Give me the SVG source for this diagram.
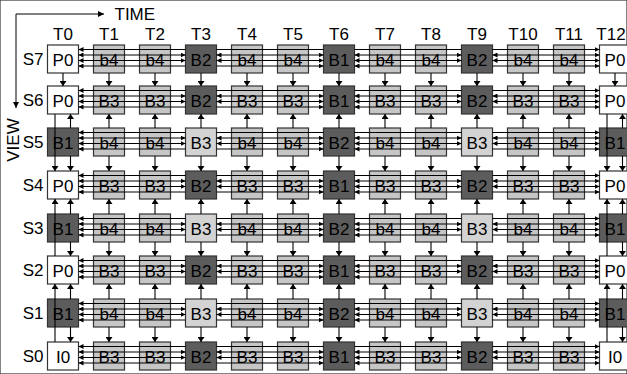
<svg xmlns="http://www.w3.org/2000/svg" xmlns:xlink="http://www.w3.org/1999/xlink" width="627" height="374" viewBox="0 0 627 374">
<style>
rect{stroke:#333;stroke-width:1.2}
.w{fill:#fff}.l{fill:#c6c6c6}.x{fill:#d3d3d3}.d{fill:#5c5c5c}
text{font-family:"Liberation Sans",Arial,sans-serif;font-size:17px;fill:#000}
.n text,.tl{text-anchor:middle}
.sl{text-anchor:end}
.c{fill:none;stroke:#000;stroke-width:1}
</style>
<defs>
<marker id="h" viewBox="0 0 5 5" refX="5" refY="2.5" markerWidth="5" markerHeight="5" markerUnits="userSpaceOnUse" orient="auto-start-reverse"><path d="M0,0L5,2.5L0,5z" fill="#000"/></marker>
<marker id="v" viewBox="0 0 5 7" refX="5" refY="3.5" markerWidth="5" markerHeight="7" markerUnits="userSpaceOnUse" orient="auto"><path d="M0,0L5,3.5L0,7z" fill="#000"/></marker>
<marker id="t" viewBox="0 0 6 6" refX="6" refY="3" markerWidth="6" markerHeight="6" markerUnits="userSpaceOnUse" orient="auto"><path d="M0,0L6,3L0,6z" fill="#000"/></marker>
<g id="hr" fill="none" stroke="#000" stroke-width="1">
<path marker-start="url(#h)" d="M78.5 4.5H185.5"/>
<path d="M216.5 4.5H323.5"/>
<path d="M354.5 4.5H461.5"/>
<path marker-end="url(#h)" d="M492.5 4.5H599.5"/>
<path marker-start="url(#h)" marker-end="url(#h)" d="M78.5 10H185.5"/>
<path marker-start="url(#h)" marker-end="url(#h)" d="M216.5 10H323.5"/>
<path marker-start="url(#h)" marker-end="url(#h)" d="M354.5 10H461.5"/>
<path marker-start="url(#h)" marker-end="url(#h)" d="M492.5 10H599.5"/>
<path marker-start="url(#h)" marker-end="url(#h)" d="M78.5 15.5H185.5"/>
<path marker-start="url(#h)" marker-end="url(#h)" d="M216.5 15.5H323.5"/>
<path marker-start="url(#h)" marker-end="url(#h)" d="M354.5 15.5H461.5"/>
<path marker-start="url(#h)" marker-end="url(#h)" d="M492.5 15.5H599.5"/>
<path marker-start="url(#h)" d="M78.5 21H185.5"/>
<path marker-end="url(#h)" d="M216.5 21H323.5"/>
<path marker-start="url(#h)" d="M354.5 21H461.5"/>
<path marker-end="url(#h)" d="M492.5 21H599.5"/>
</g>
<g id="vc" fill="none" stroke="#000" stroke-width="1.1" marker-end="url(#v)">
<path d="M0 73V86"/><path d="M0 128V114"/><path d="M0 156V171"/><path d="M0 214V199"/><path d="M0 242V256"/><path d="M0 299V284"/><path d="M0 327V342"/>
</g>
<g id="ve" fill="none" stroke="#000" stroke-width="1.1" marker-end="url(#v)">
<path d="M15.5 73V86"/>
<path d="M7.5 114V171"/><path d="M7.5 256V199"/><path d="M7.5 342V284"/>
<path d="M23 128V114"/><path d="M23 156V171"/><path d="M23 214V199"/><path d="M23 242V256"/><path d="M23 299V284"/><path d="M23 327V342"/>
</g>
</defs>
<rect x="0" y="0" width="627" height="374" fill="#fff" stroke="none"/>
<g id="axes">
<path class="c" d="M16 14H104" marker-end="url(#t)"/>
<path class="c" d="M16 14V108" marker-end="url(#t)"/>
<text x="114.5" y="19.5">TIME</text>
<text class="tl" transform="translate(18.5 140) rotate(-90)">VIEW</text>
</g>
<g id="labels">
<text class="tl" x="63" y="39.5">T0</text><text class="tl" x="109" y="39.5">T1</text><text class="tl" x="155" y="39.5">T2</text><text class="tl" x="201" y="39.5">T3</text><text class="tl" x="247" y="39.5">T4</text><text class="tl" x="293" y="39.5">T5</text><text class="tl" x="339" y="39.5">T6</text><text class="tl" x="385" y="39.5">T7</text><text class="tl" x="431" y="39.5">T8</text><text class="tl" x="477" y="39.5">T9</text><text class="tl" x="523" y="39.5">T10</text><text class="tl" x="569" y="39.5">T11</text><text class="tl" x="611" y="39.5">T12</text>
<text class="sl" x="43.5" y="64.5">S7</text><text class="sl" x="43.5" y="105.5">S6</text><text class="sl" x="43.5" y="147.5">S5</text><text class="sl" x="43.5" y="190.5">S4</text><text class="sl" x="43.5" y="233.5">S3</text><text class="sl" x="43.5" y="275.5">S2</text><text class="sl" x="43.5" y="318.5">S1</text><text class="sl" x="43.5" y="361.5">S0</text>
</g>
<g id="nodes">
<g id="S7T0" class="n" transform="translate(47.5 45)"><rect class="w" width="31" height="28"/><text x="15.5" y="20.5">P0</text></g>
<g id="S7T1" class="n" transform="translate(93.5 45)"><rect class="l" width="31" height="28"/><text x="15.5" y="20.5">b4</text></g>
<g id="S7T2" class="n" transform="translate(139.5 45)"><rect class="l" width="31" height="28"/><text x="15.5" y="20.5">b4</text></g>
<g id="S7T3" class="n" transform="translate(185.5 45)"><rect class="d" width="31" height="28"/><text x="15.5" y="20.5">B2</text></g>
<g id="S7T4" class="n" transform="translate(231.5 45)"><rect class="l" width="31" height="28"/><text x="15.5" y="20.5">b4</text></g>
<g id="S7T5" class="n" transform="translate(277.5 45)"><rect class="l" width="31" height="28"/><text x="15.5" y="20.5">b4</text></g>
<g id="S7T6" class="n" transform="translate(323.5 45)"><rect class="d" width="31" height="28"/><text x="15.5" y="20.5">B1</text></g>
<g id="S7T7" class="n" transform="translate(369.5 45)"><rect class="l" width="31" height="28"/><text x="15.5" y="20.5">b4</text></g>
<g id="S7T8" class="n" transform="translate(415.5 45)"><rect class="l" width="31" height="28"/><text x="15.5" y="20.5">b4</text></g>
<g id="S7T9" class="n" transform="translate(461.5 45)"><rect class="d" width="31" height="28"/><text x="15.5" y="20.5">B2</text></g>
<g id="S7T10" class="n" transform="translate(507.5 45)"><rect class="l" width="31" height="28"/><text x="15.5" y="20.5">b4</text></g>
<g id="S7T11" class="n" transform="translate(553.5 45)"><rect class="l" width="31" height="28"/><text x="15.5" y="20.5">b4</text></g>
<g id="S7T12" class="n" transform="translate(599.5 45)"><rect class="w" width="31" height="28"/><text x="15.5" y="20.5">P0</text></g>

<g id="S6T0" class="n" transform="translate(47.5 86)"><rect class="w" width="31" height="28"/><text x="15.5" y="20.5">P0</text></g>
<g id="S6T1" class="n" transform="translate(93.5 86)"><rect class="l" width="31" height="28"/><text x="15.5" y="20.5">B3</text></g>
<g id="S6T2" class="n" transform="translate(139.5 86)"><rect class="l" width="31" height="28"/><text x="15.5" y="20.5">B3</text></g>
<g id="S6T3" class="n" transform="translate(185.5 86)"><rect class="d" width="31" height="28"/><text x="15.5" y="20.5">B2</text></g>
<g id="S6T4" class="n" transform="translate(231.5 86)"><rect class="l" width="31" height="28"/><text x="15.5" y="20.5">B3</text></g>
<g id="S6T5" class="n" transform="translate(277.5 86)"><rect class="l" width="31" height="28"/><text x="15.5" y="20.5">B3</text></g>
<g id="S6T6" class="n" transform="translate(323.5 86)"><rect class="d" width="31" height="28"/><text x="15.5" y="20.5">B1</text></g>
<g id="S6T7" class="n" transform="translate(369.5 86)"><rect class="l" width="31" height="28"/><text x="15.5" y="20.5">B3</text></g>
<g id="S6T8" class="n" transform="translate(415.5 86)"><rect class="l" width="31" height="28"/><text x="15.5" y="20.5">B3</text></g>
<g id="S6T9" class="n" transform="translate(461.5 86)"><rect class="d" width="31" height="28"/><text x="15.5" y="20.5">B2</text></g>
<g id="S6T10" class="n" transform="translate(507.5 86)"><rect class="l" width="31" height="28"/><text x="15.5" y="20.5">B3</text></g>
<g id="S6T11" class="n" transform="translate(553.5 86)"><rect class="l" width="31" height="28"/><text x="15.5" y="20.5">B3</text></g>
<g id="S6T12" class="n" transform="translate(599.5 86)"><rect class="w" width="31" height="28"/><text x="15.5" y="20.5">P0</text></g>

<g id="S5T0" class="n" transform="translate(47.5 128)"><rect class="d" width="31" height="28"/><text x="15.5" y="20.5">B1</text></g>
<g id="S5T1" class="n" transform="translate(93.5 128)"><rect class="l" width="31" height="28"/><text x="15.5" y="20.5">b4</text></g>
<g id="S5T2" class="n" transform="translate(139.5 128)"><rect class="l" width="31" height="28"/><text x="15.5" y="20.5">b4</text></g>
<g id="S5T3" class="n" transform="translate(185.5 128)"><rect class="x" width="31" height="28"/><text x="15.5" y="20.5">B3</text></g>
<g id="S5T4" class="n" transform="translate(231.5 128)"><rect class="l" width="31" height="28"/><text x="15.5" y="20.5">b4</text></g>
<g id="S5T5" class="n" transform="translate(277.5 128)"><rect class="l" width="31" height="28"/><text x="15.5" y="20.5">b4</text></g>
<g id="S5T6" class="n" transform="translate(323.5 128)"><rect class="d" width="31" height="28"/><text x="15.5" y="20.5">B2</text></g>
<g id="S5T7" class="n" transform="translate(369.5 128)"><rect class="l" width="31" height="28"/><text x="15.5" y="20.5">b4</text></g>
<g id="S5T8" class="n" transform="translate(415.5 128)"><rect class="l" width="31" height="28"/><text x="15.5" y="20.5">b4</text></g>
<g id="S5T9" class="n" transform="translate(461.5 128)"><rect class="x" width="31" height="28"/><text x="15.5" y="20.5">B3</text></g>
<g id="S5T10" class="n" transform="translate(507.5 128)"><rect class="l" width="31" height="28"/><text x="15.5" y="20.5">b4</text></g>
<g id="S5T11" class="n" transform="translate(553.5 128)"><rect class="l" width="31" height="28"/><text x="15.5" y="20.5">b4</text></g>
<g id="S5T12" class="n" transform="translate(599.5 128)"><rect class="d" width="31" height="28"/><text x="15.5" y="20.5">B1</text></g>

<g id="S4T0" class="n" transform="translate(47.5 171)"><rect class="w" width="31" height="28"/><text x="15.5" y="20.5">P0</text></g>
<g id="S4T1" class="n" transform="translate(93.5 171)"><rect class="l" width="31" height="28"/><text x="15.5" y="20.5">B3</text></g>
<g id="S4T2" class="n" transform="translate(139.5 171)"><rect class="l" width="31" height="28"/><text x="15.5" y="20.5">B3</text></g>
<g id="S4T3" class="n" transform="translate(185.5 171)"><rect class="d" width="31" height="28"/><text x="15.5" y="20.5">B2</text></g>
<g id="S4T4" class="n" transform="translate(231.5 171)"><rect class="l" width="31" height="28"/><text x="15.5" y="20.5">B3</text></g>
<g id="S4T5" class="n" transform="translate(277.5 171)"><rect class="l" width="31" height="28"/><text x="15.5" y="20.5">B3</text></g>
<g id="S4T6" class="n" transform="translate(323.5 171)"><rect class="d" width="31" height="28"/><text x="15.5" y="20.5">B1</text></g>
<g id="S4T7" class="n" transform="translate(369.5 171)"><rect class="l" width="31" height="28"/><text x="15.5" y="20.5">B3</text></g>
<g id="S4T8" class="n" transform="translate(415.5 171)"><rect class="l" width="31" height="28"/><text x="15.5" y="20.5">B3</text></g>
<g id="S4T9" class="n" transform="translate(461.5 171)"><rect class="d" width="31" height="28"/><text x="15.5" y="20.5">B2</text></g>
<g id="S4T10" class="n" transform="translate(507.5 171)"><rect class="l" width="31" height="28"/><text x="15.5" y="20.5">B3</text></g>
<g id="S4T11" class="n" transform="translate(553.5 171)"><rect class="l" width="31" height="28"/><text x="15.5" y="20.5">B3</text></g>
<g id="S4T12" class="n" transform="translate(599.5 171)"><rect class="w" width="31" height="28"/><text x="15.5" y="20.5">P0</text></g>

<g id="S3T0" class="n" transform="translate(47.5 214)"><rect class="d" width="31" height="28"/><text x="15.5" y="20.5">B1</text></g>
<g id="S3T1" class="n" transform="translate(93.5 214)"><rect class="l" width="31" height="28"/><text x="15.5" y="20.5">b4</text></g>
<g id="S3T2" class="n" transform="translate(139.5 214)"><rect class="l" width="31" height="28"/><text x="15.5" y="20.5">b4</text></g>
<g id="S3T3" class="n" transform="translate(185.5 214)"><rect class="x" width="31" height="28"/><text x="15.5" y="20.5">B3</text></g>
<g id="S3T4" class="n" transform="translate(231.5 214)"><rect class="l" width="31" height="28"/><text x="15.5" y="20.5">b4</text></g>
<g id="S3T5" class="n" transform="translate(277.5 214)"><rect class="l" width="31" height="28"/><text x="15.5" y="20.5">b4</text></g>
<g id="S3T6" class="n" transform="translate(323.5 214)"><rect class="d" width="31" height="28"/><text x="15.5" y="20.5">B2</text></g>
<g id="S3T7" class="n" transform="translate(369.5 214)"><rect class="l" width="31" height="28"/><text x="15.5" y="20.5">b4</text></g>
<g id="S3T8" class="n" transform="translate(415.5 214)"><rect class="l" width="31" height="28"/><text x="15.5" y="20.5">b4</text></g>
<g id="S3T9" class="n" transform="translate(461.5 214)"><rect class="x" width="31" height="28"/><text x="15.5" y="20.5">B3</text></g>
<g id="S3T10" class="n" transform="translate(507.5 214)"><rect class="l" width="31" height="28"/><text x="15.5" y="20.5">b4</text></g>
<g id="S3T11" class="n" transform="translate(553.5 214)"><rect class="l" width="31" height="28"/><text x="15.5" y="20.5">b4</text></g>
<g id="S3T12" class="n" transform="translate(599.5 214)"><rect class="d" width="31" height="28"/><text x="15.5" y="20.5">B1</text></g>

<g id="S2T0" class="n" transform="translate(47.5 256)"><rect class="w" width="31" height="28"/><text x="15.5" y="20.5">P0</text></g>
<g id="S2T1" class="n" transform="translate(93.5 256)"><rect class="l" width="31" height="28"/><text x="15.5" y="20.5">B3</text></g>
<g id="S2T2" class="n" transform="translate(139.5 256)"><rect class="l" width="31" height="28"/><text x="15.5" y="20.5">B3</text></g>
<g id="S2T3" class="n" transform="translate(185.5 256)"><rect class="d" width="31" height="28"/><text x="15.5" y="20.5">B2</text></g>
<g id="S2T4" class="n" transform="translate(231.5 256)"><rect class="l" width="31" height="28"/><text x="15.5" y="20.5">B3</text></g>
<g id="S2T5" class="n" transform="translate(277.5 256)"><rect class="l" width="31" height="28"/><text x="15.5" y="20.5">B3</text></g>
<g id="S2T6" class="n" transform="translate(323.5 256)"><rect class="d" width="31" height="28"/><text x="15.5" y="20.5">B1</text></g>
<g id="S2T7" class="n" transform="translate(369.5 256)"><rect class="l" width="31" height="28"/><text x="15.5" y="20.5">B3</text></g>
<g id="S2T8" class="n" transform="translate(415.5 256)"><rect class="l" width="31" height="28"/><text x="15.5" y="20.5">B3</text></g>
<g id="S2T9" class="n" transform="translate(461.5 256)"><rect class="d" width="31" height="28"/><text x="15.5" y="20.5">B2</text></g>
<g id="S2T10" class="n" transform="translate(507.5 256)"><rect class="l" width="31" height="28"/><text x="15.5" y="20.5">B3</text></g>
<g id="S2T11" class="n" transform="translate(553.5 256)"><rect class="l" width="31" height="28"/><text x="15.5" y="20.5">B3</text></g>
<g id="S2T12" class="n" transform="translate(599.5 256)"><rect class="w" width="31" height="28"/><text x="15.5" y="20.5">P0</text></g>

<g id="S1T0" class="n" transform="translate(47.5 299)"><rect class="d" width="31" height="28"/><text x="15.5" y="20.5">B1</text></g>
<g id="S1T1" class="n" transform="translate(93.5 299)"><rect class="l" width="31" height="28"/><text x="15.5" y="20.5">b4</text></g>
<g id="S1T2" class="n" transform="translate(139.5 299)"><rect class="l" width="31" height="28"/><text x="15.5" y="20.5">b4</text></g>
<g id="S1T3" class="n" transform="translate(185.5 299)"><rect class="x" width="31" height="28"/><text x="15.5" y="20.5">B3</text></g>
<g id="S1T4" class="n" transform="translate(231.5 299)"><rect class="l" width="31" height="28"/><text x="15.5" y="20.5">b4</text></g>
<g id="S1T5" class="n" transform="translate(277.5 299)"><rect class="l" width="31" height="28"/><text x="15.5" y="20.5">b4</text></g>
<g id="S1T6" class="n" transform="translate(323.5 299)"><rect class="d" width="31" height="28"/><text x="15.5" y="20.5">B2</text></g>
<g id="S1T7" class="n" transform="translate(369.5 299)"><rect class="l" width="31" height="28"/><text x="15.5" y="20.5">b4</text></g>
<g id="S1T8" class="n" transform="translate(415.5 299)"><rect class="l" width="31" height="28"/><text x="15.5" y="20.5">b4</text></g>
<g id="S1T9" class="n" transform="translate(461.5 299)"><rect class="x" width="31" height="28"/><text x="15.5" y="20.5">B3</text></g>
<g id="S1T10" class="n" transform="translate(507.5 299)"><rect class="l" width="31" height="28"/><text x="15.5" y="20.5">b4</text></g>
<g id="S1T11" class="n" transform="translate(553.5 299)"><rect class="l" width="31" height="28"/><text x="15.5" y="20.5">b4</text></g>
<g id="S1T12" class="n" transform="translate(599.5 299)"><rect class="d" width="31" height="28"/><text x="15.5" y="20.5">B1</text></g>

<g id="S0T0" class="n" transform="translate(47.5 342)"><rect class="w" width="31" height="28"/><text x="15.5" y="20.5">I0</text></g>
<g id="S0T1" class="n" transform="translate(93.5 342)"><rect class="l" width="31" height="28"/><text x="15.5" y="20.5">B3</text></g>
<g id="S0T2" class="n" transform="translate(139.5 342)"><rect class="l" width="31" height="28"/><text x="15.5" y="20.5">B3</text></g>
<g id="S0T3" class="n" transform="translate(185.5 342)"><rect class="d" width="31" height="28"/><text x="15.5" y="20.5">B2</text></g>
<g id="S0T4" class="n" transform="translate(231.5 342)"><rect class="l" width="31" height="28"/><text x="15.5" y="20.5">B3</text></g>
<g id="S0T5" class="n" transform="translate(277.5 342)"><rect class="l" width="31" height="28"/><text x="15.5" y="20.5">B3</text></g>
<g id="S0T6" class="n" transform="translate(323.5 342)"><rect class="d" width="31" height="28"/><text x="15.5" y="20.5">B1</text></g>
<g id="S0T7" class="n" transform="translate(369.5 342)"><rect class="l" width="31" height="28"/><text x="15.5" y="20.5">B3</text></g>
<g id="S0T8" class="n" transform="translate(415.5 342)"><rect class="l" width="31" height="28"/><text x="15.5" y="20.5">B3</text></g>
<g id="S0T9" class="n" transform="translate(461.5 342)"><rect class="d" width="31" height="28"/><text x="15.5" y="20.5">B2</text></g>
<g id="S0T10" class="n" transform="translate(507.5 342)"><rect class="l" width="31" height="28"/><text x="15.5" y="20.5">B3</text></g>
<g id="S0T11" class="n" transform="translate(553.5 342)"><rect class="l" width="31" height="28"/><text x="15.5" y="20.5">B3</text></g>
<g id="S0T12" class="n" transform="translate(599.5 342)"><rect class="w" width="31" height="28"/><text x="15.5" y="20.5">I0</text></g>
</g>
<g id="connectors">
<use href="#hr" y="45"/><use href="#hr" y="86"/><use href="#hr" y="128"/><use href="#hr" y="171"/><use href="#hr" y="214"/><use href="#hr" y="256"/><use href="#hr" y="299"/><use href="#hr" y="342"/>
<use href="#vc" x="109"/><use href="#vc" x="155"/><use href="#vc" x="201"/><use href="#vc" x="247"/><use href="#vc" x="293"/><use href="#vc" x="339"/><use href="#vc" x="385"/><use href="#vc" x="431"/><use href="#vc" x="477"/><use href="#vc" x="523"/><use href="#vc" x="569"/>
<use href="#ve" x="47.5"/><use href="#ve" x="599.5"/>
</g>
</svg>
